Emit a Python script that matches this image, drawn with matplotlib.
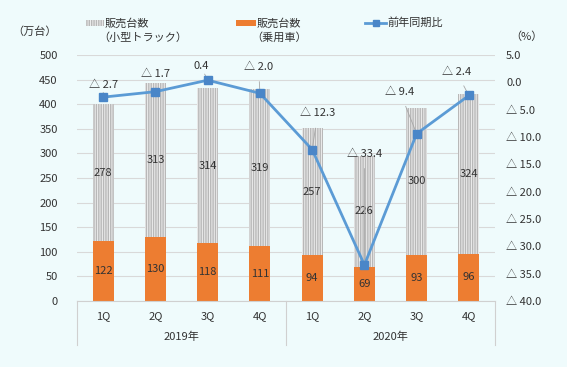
import matplotlib.pyplot as plt
from matplotlib.patches import Rectangle
from matplotlib.lines import Line2D
import numpy as np

plt.rcParams['font.family'] = ['Noto Sans CJK JP', 'DejaVu Sans']
plt.rcParams['hatch.linewidth'] = 1.0

# Data
quarters = ['1Q', '2Q', '3Q', '4Q', '1Q', '2Q', '3Q', '4Q']
years = ['2019年', '2020年']
trucks = [278, 313, 314, 319, 257, 226, 300, 324]
cars = [122, 130, 118, 111, 94, 69, 93, 96]
yoy = [-2.7, -1.7, 0.4, -2.0, -12.3, -33.4, -9.4, -2.4]

bg = '#EFFBFC'
orange = '#ED7D31'
blue = '#5B9BD5'
mk = '#4A86C8'
grey_face = '#EEEEEE'
grey_hatch = '#B8B8B8'
txt = '#333333'
W, H = 567, 367


def fmt(v):
    # Japanese style: triangle for negative numbers
    if v < 0:
        return '△ %.1f' % abs(v)
    return '%.1f' % v


fig = plt.figure(figsize=(5.67, 3.67), dpi=100, facecolor=bg)
ax = fig.add_axes([0.136, 0.180, 0.737, 0.670])
ax.set_facecolor(bg)
x = np.arange(len(quarters))

ax.set_ylim(0, 500)
ax.set_xlim(-0.5, len(quarters) - 0.5)
ax.set_yticks(np.arange(0, 501, 50))
ax.yaxis.grid(True, color='#D9D9D9', linewidth=0.8)
ax.set_axisbelow(True)
for s in ['top', 'right', 'left']:
    ax.spines[s].set_visible(False)
ax.spines['bottom'].set_color('#D0D0D0')
ax.tick_params(axis='y', length=0, labelsize=8, colors=txt, pad=14)
ax.tick_params(axis='x', length=0, labelbottom=False)

ax.bar(x, cars, width=0.4, color=orange, zorder=2)
ax.bar(x, trucks, width=0.4, bottom=cars, color=grey_face, edgecolor=grey_hatch,
       hatch='|||||||', linewidth=0, zorder=2)

for i in range(len(x)):
    ax.text(x[i], cars[i] / 2, str(cars[i]), ha='center', va='center', fontsize=8, color=txt, zorder=5)
    ax.text(x[i], cars[i] + trucks[i] / 2, str(trucks[i]), ha='center', va='center',
            fontsize=8, color=txt, zorder=5)

# quarter and year labels
for i, q in enumerate(quarters):
    ax.text(x[i], -0.06, q, transform=ax.get_xaxis_transform(), ha='center', va='center',
            fontsize=8, color=txt)
for j, yr in enumerate(years):
    ax.text(1.5 + 4 * j, -0.145, yr, transform=ax.get_xaxis_transform(), ha='center',
            va='center', fontsize=8, color=txt)
for xs in [-0.5, 3.5, 7.5]:
    ax.plot([xs, xs], [0, -0.18], transform=ax.get_xaxis_transform(), color='#D0D0D0',
            linewidth=0.8, clip_on=False)

ax2 = ax.twinx()
ax2.set_ylim(-40, 5)
ax2.set_yticks(np.arange(-40, 5.1, 5))
ax2.set_yticklabels([fmt(v) for v in np.arange(-40, 5.1, 5)])
for s in ax2.spines:
    ax2.spines[s].set_visible(False)
ax2.tick_params(axis='y', length=0, labelsize=8, colors=txt, pad=8)
ax2.plot(x, yoy, color=blue, linewidth=2, marker='s', markersize=5.5,
         markerfacecolor=mk, markeredgecolor=mk, zorder=4)

offsets = [(0, 9), (0, 13), (-5, 10), (-1, 19), (4, 26), (0, 80), (-12, 30), (-9, 17)]
for i, v in enumerate(yoy):
    ax2.annotate(fmt(v), (x[i], v), xytext=offsets[i], textcoords='offset points',
                 ha='center', va='center', fontsize=8, color=txt,
                 arrowprops=dict(arrowstyle='-', color='#A6A6A6', lw=0.6, shrinkA=5, shrinkB=3))

# legend drawn by hand so the handle lines up with the first text line
ly = 1 - 23 / H
fig.patches.append(Rectangle((86 / W, ly - 3 / H), 18 / W, 6 / H, transform=fig.transFigure,
                             facecolor=grey_face, edgecolor=grey_hatch, hatch='|||||||', linewidth=0))
fig.text(105 / W, ly, '販売台数', fontsize=8, color=txt, ha='left', va='center')
fig.text(98 / W, ly - 15 / H, '（小型トラック）', fontsize=8, color=txt, ha='left', va='center')
fig.patches.append(Rectangle((236 / W, ly - 3 / H), 20 / W, 6 / H, transform=fig.transFigure,
                             facecolor=orange, linewidth=0))
fig.text(257 / W, ly, '販売台数', fontsize=8, color=txt, ha='left', va='center')
fig.text(251 / W, ly - 15 / H, '（乗用車）', fontsize=8, color=txt, ha='left', va='center')
fig.lines.append(Line2D([365 / W, 386 / W], [ly, ly], transform=fig.transFigure, color=blue,
                        linewidth=2))
fig.lines.append(Line2D([375.5 / W], [ly], transform=fig.transFigure, marker='s', markersize=4,
                        color=mk, linestyle='None'))
fig.text(387 / W, ly, '前年同期比', fontsize=8, color=txt, ha='left', va='center')

fig.text(12 / W, 1 - 32 / H, '（万台）', fontsize=8, color=txt, ha='left', va='center')
fig.text(510 / W, 1 - 37 / H, '（%）', fontsize=8, color=txt, ha='left', va='center')

fig.savefig('out.png', dpi=100, facecolor=bg)
